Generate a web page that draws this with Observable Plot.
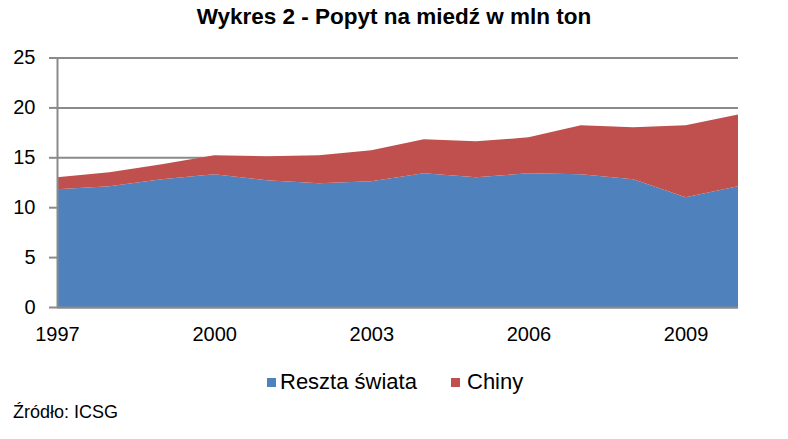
<!DOCTYPE html>
<html>
<head>
<meta charset="utf-8">
<script src="https://cdn.jsdelivr.net/npm/d3@7"></script>
<script src="https://cdn.jsdelivr.net/npm/@observablehq/plot@0.6"></script>
<style>
  html, body { margin: 0; padding: 0; background: #fff; }
  #wrap { width: 788px; height: 439px; position: relative; overflow: hidden; font-family: "Liberation Sans", Arial, sans-serif; color: #000; }
  #title { height: 40px; box-sizing: border-box; padding-top: 6px; line-height: 22px; font-size: 22.5px; font-weight: bold; text-align: center; }
  #chart svg { display: block; }
  #legend { margin-top: 11px; height: 22px; line-height: 22px; font-size: 22px; position: relative; }
  .item { position: absolute; top: 0; height: 22px; display: flex; align-items: center; }
  .sw { width: 9px; height: 9px; display: inline-block; }
  #source { margin-top: 10px; padding-left: 13px; font-size: 18px; line-height: 18px; height: 18px; }
</style>
</head>
<body>
<div id="wrap">
  <div id="title">Wykres 2 - Popyt na miedź w mln ton</div>
  <div id="chart"></div>
  <div id="legend"></div>
  <div id="source">Źródło: ICSG</div>
</div>
<script>
const years = [1997, 1998, 1999, 2000, 2001, 2002, 2003, 2004, 2005, 2006, 2007, 2008, 2009, 2010];
const resztaSwiata = [11.8, 12.1, 12.8, 13.3, 12.7, 12.4, 12.6, 13.4, 13.0, 13.4, 13.3, 12.8, 11.0, 12.1];
const chiny = [1.2, 1.4, 1.5, 1.9, 2.4, 2.8, 3.1, 3.4, 3.6, 3.6, 4.9, 5.2, 7.2, 7.2];
const seriesNames = ["Reszta świata", "Chiny"];
const seriesColors = ["#4F81BD", "#C0504D"];
const yTicks = [0, 5, 10, 15, 20, 25];
const xTicks = [1997, 2000, 2003, 2006, 2009];

const data = years.flatMap((yr, i) => [
  {year: yr, series: seriesNames[0], value: resztaSwiata[i]},
  {year: yr, series: seriesNames[1], value: chiny[i]}
]);

const axisGray = "#8a8a8a";

const chart = Plot.plot({
  width: 788,
  height: 320,
  marginLeft: 57,
  marginRight: 50,
  marginTop: 17.5,
  marginBottom: 53,
  style: {fontFamily: "'Liberation Sans', Arial, sans-serif", fontSize: "20px", color: "#000", background: "transparent", overflow: "visible"},
  x: {domain: [years[0], years[years.length - 1]], label: null},
  y: {domain: [yTicks[0], yTicks[yTicks.length - 1]], label: null},
  color: {domain: seriesNames, range: seriesColors},
  marks: [
    Plot.gridY(yTicks, {stroke: axisGray, strokeOpacity: 1, strokeWidth: 2}),
    Plot.areaY(data, {x: "year", y: "value", fill: "series", order: seriesNames}),
    Plot.ruleX([years[0]], {stroke: axisGray, strokeWidth: 2}),
    Plot.ruleY([0], {stroke: axisGray, strokeWidth: 2}),
    Plot.axisY(yTicks, {tickSize: 8, tickPadding: 14, stroke: axisGray, strokeWidth: 2, fontSize: 20, label: null}),
    Plot.axisX(xTicks, {tickSize: 0, tickPadding: 19, tickFormat: d => String(d), fontSize: 20, label: null})
  ]
});
document.getElementById("chart").appendChild(chart);

const legend = document.getElementById("legend");
const legendLeft = [267, 451];
const legendGap = [4, 7];
seriesNames.forEach((name, i) => {
  const item = document.createElement("span");
  item.className = "item";
  item.style.left = legendLeft[i] + "px";
  const sw = document.createElement("span");
  sw.className = "sw";
  sw.style.background = seriesColors[i];
  sw.style.marginRight = legendGap[i] + "px";
  const label = document.createElement("span");
  label.textContent = name;
  item.appendChild(sw);
  item.appendChild(label);
  legend.appendChild(item);
});
</script>
</body>
</html>
